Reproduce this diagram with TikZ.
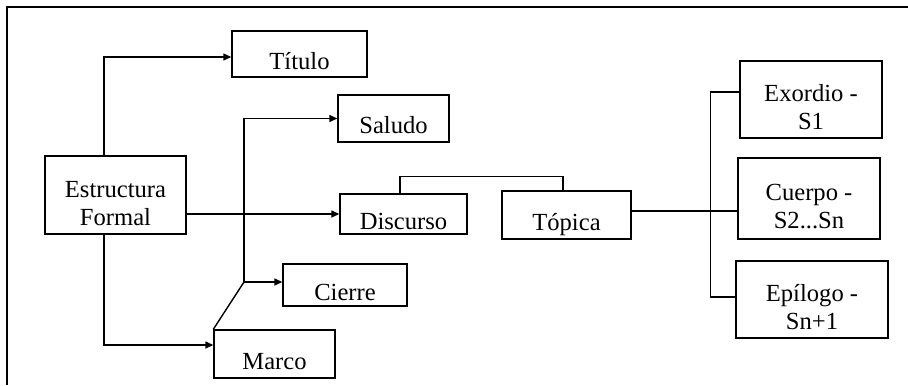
\documentclass[tikz,border=0pt]{standalone}
\usepackage{fontspec}
\setmainfont{Liberation Serif}
\usetikzlibrary{arrows.meta}
\tikzset{x=0.5pt, y=-0.5pt, arr/.style={draw,line width=0.7pt,-{Triangle[length=4pt,width=3.5pt]}},
	link/.style={draw,line width=0.7pt}}
\tikzstyle{box}=[rectangle,draw=black,line width=0.7pt,inner sep=0pt,align=center,font=\fontsize{12.3}{14}\selectfont,text height=15pt,text depth=0pt]
\tikzstyle{box2}=[box,text height=30pt,text depth=0pt]

\begin{document}
\begin{tikzpicture}
	\useasboundingbox (0,0) rectangle (908,385);
	\draw[line width=1pt] (908,7.5) -- (7,7.5) -- (7,385);
	
	\node at (115.5,195) [box2,minimum width=70.5pt,minimum height=39pt] (1) {Estructura\\Formal};
	\node at (299.5,54) [box,minimum width=67.5pt,minimum height=23pt] (2) {Título};
	\node at (393.5,118.5) [box,minimum width=55.5pt,minimum height=23.5pt] (3) {Saludo};
	\node at (403.5,214) [box,minimum width=63.5pt,minimum height=20pt] (4) {Discurso};
	\node at (566.5,215) [box,minimum width=64.5pt,minimum height=24pt] (5) {Tópica};
	\node at (345,285) [box,minimum width=62pt,minimum height=21pt] (6) {Cierre};
	\node at (274.5,354) [box,minimum width=60.5pt,minimum height=24pt] (7) {Marco};
	\node at (811,99.5) [box2,minimum width=71pt,minimum height=38.5pt] (8) {Exordio -\\S1};
	\node at (809,198.5) [box2,minimum width=71pt,minimum height=40.5pt] (9) {Cuerpo -\\S2...Sn};
	\node at (812,299.5) [box2,minimum width=76pt,minimum height=38.5pt] (10) {Epílogo -\\Sn+1};
	\coordinate (j) at (244,282);
	
	\draw[arr] ([xshift=-5.75pt]1.north) |- ([yshift=-1.5pt]2.west);
	\draw[arr] (1.east |- 4.west) -- (4.west);
	\draw[arr] ([xshift=-5.75pt]1.south) |- ([yshift=4.5pt]7.west);
	\draw[link] (7.north west) -- (j);
	\draw[arr] (j) -- (j -| 6.west);
	\draw[arr] (j) |- (3.west);
	\draw[link] ([xshift=-1.75pt]4.north) -- ++(0,-17) -| ([xshift=-1.75pt]5.north);
	\draw[link] ([yshift=2pt]5.east) -- ([yshift=2pt]5.east -| 9.west);
	\draw[link] ([yshift=3.75pt]8.west) -- ++(-29,0) |- ([yshift=1.25pt]10.west);
\end{tikzpicture}
\end{document}
